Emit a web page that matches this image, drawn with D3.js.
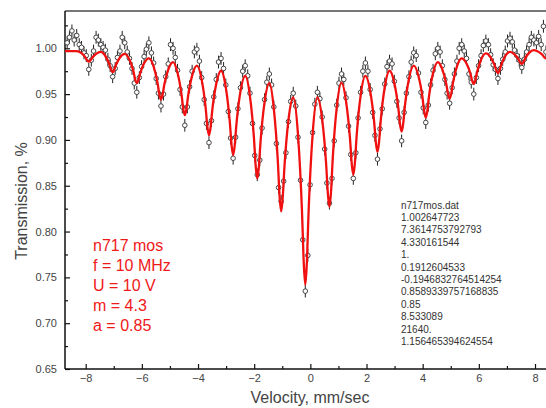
<!DOCTYPE html>
<html>
<head>
<meta charset="utf-8">
<script src="https://cdn.jsdelivr.net/npm/d3@7"></script>
<style>
    body { margin: 0; background: #fff; }
    svg { display: block; font-family: "Liberation Sans", Arial, sans-serif; }
    .tick text { fill: #444; font-size: 11px; }
</style>
</head>
<body>
<svg width="546" height="408"></svg>
<script>
    // measured spectrum (velocity mm/sec, transmission)
    var dataVel = [
        -8.66, -8.58, -8.49, -8.41, -8.32,
        -8.23, -8.15, -8.06, -7.98, -7.89, -7.80, -7.72, -7.63, -7.55, -7.46,
        -7.38, -7.30, -7.21, -7.13, -7.04, -6.95, -6.87, -6.78, -6.70, -6.61,
        -6.52, -6.44, -6.35, -6.27, -6.18, -6.09, -6.01, -5.92, -5.84, -5.75,
        -5.66, -5.58, -5.49, -5.41, -5.32, -5.23, -5.15, -5.06, -4.98, -4.89,
        -4.81, -4.73, -4.64, -4.56, -4.47, -4.38, -4.30, -4.21, -4.13, -4.04,
        -3.95, -3.87, -3.78, -3.70, -3.61, -3.52, -3.44, -3.35, -3.27, -3.18,
        -3.09, -3.01, -2.92, -2.84, -2.75, -2.66, -2.58, -2.49, -2.41, -2.32,
        -2.23, -2.15, -2.06, -1.98, -1.89, -1.80, -1.72, -1.63, -1.55, -1.46,
        -1.38, -1.30, -1.21, -1.13, -1.04, -0.95, -0.87, -0.78, -0.70, -0.61,
        -0.52, -0.44, -0.35, -0.27, -0.18, -0.09, -0.01, 0.08, 0.16, 0.25,
        0.34, 0.42, 0.51, 0.59, 0.68, 0.77, 0.85, 0.94, 1.02, 1.11,
        1.19, 1.27, 1.36, 1.44, 1.53, 1.62, 1.70, 1.79, 1.87, 1.96,
        2.05, 2.13, 2.22, 2.30, 2.39, 2.48, 2.56, 2.65, 2.73, 2.82,
        2.91, 2.99, 3.08, 3.16, 3.25, 3.34, 3.42, 3.51, 3.59, 3.68,
        3.77, 3.85, 3.94, 4.02, 4.11, 4.20, 4.28, 4.37, 4.45, 4.54,
        4.62, 4.70, 4.79, 4.87, 4.96, 5.05, 5.13, 5.22, 5.30, 5.39,
        5.48, 5.56, 5.65, 5.73, 5.82, 5.91, 5.99, 6.08, 6.16, 6.25,
        6.34, 6.42, 6.51, 6.59, 6.68, 6.77, 6.85, 6.94, 7.02, 7.11,
        7.19, 7.27, 7.36, 7.44, 7.53, 7.62, 7.70, 7.79, 7.87, 7.96,
        8.05, 8.13, 8.22, 8.30, 8.39
    ];
    var dataTrans = [
        1.006, 1.012, 1.019, 1.009, 1.014,
        1.004, 1.001, 0.995, 0.992, 0.977, 0.987, 0.997, 1.012, 1.009, 1.004,
        1.001, 0.998, 0.988, 0.981, 0.969, 0.978, 0.990, 0.997, 1.012, 1.006,
        0.996, 0.989, 0.978, 0.962, 0.952, 0.968, 0.980, 0.991, 0.999, 1.006,
        0.995, 0.984, 0.967, 0.951, 0.937, 0.950, 0.969, 0.983, 1.004, 1.000,
        0.990, 0.976, 0.955, 0.936, 0.916, 0.936, 0.958, 0.975, 0.996, 0.999,
        0.986, 0.968, 0.944, 0.918, 0.897, 0.921, 0.947, 0.966, 0.985, 0.989,
        0.978, 0.960, 0.931, 0.902, 0.880, 0.903, 0.934, 0.957, 0.975, 0.981,
        0.970, 0.951, 0.918, 0.883, 0.862, 0.878, 0.913, 0.944, 0.963, 0.972,
        0.960, 0.936, 0.896, 0.848, 0.833, 0.855, 0.886, 0.920, 0.942, 0.951,
        0.937, 0.903, 0.856, 0.791, 0.735, 0.774, 0.851, 0.908, 0.939, 0.952,
        0.945, 0.925, 0.890, 0.853, 0.831, 0.858, 0.899, 0.938, 0.962, 0.972,
        0.966, 0.946, 0.915, 0.884, 0.858, 0.886, 0.924, 0.952, 0.975, 0.984,
        0.975, 0.955, 0.930, 0.905, 0.879, 0.912, 0.934, 0.961, 0.980, 0.986,
        0.983, 0.964, 0.942, 0.924, 0.899, 0.930, 0.951, 0.969, 0.985, 0.995,
        0.992, 0.973, 0.952, 0.935, 0.919, 0.938, 0.960, 0.976, 0.994, 1.000,
        0.996, 0.981, 0.966, 0.951, 0.940, 0.957, 0.972, 0.986, 1.000, 1.004,
        0.997, 0.989, 0.972, 0.963, 0.950, 0.968, 0.981, 0.992, 1.003, 1.008,
        1.004, 0.993, 0.982, 0.977, 0.967, 0.978, 0.988, 0.996, 1.008, 1.011,
        1.007, 0.998, 0.992, 0.987, 0.979, 0.988, 0.996, 1.004, 1.012, 1.009,
        1.006, 1.013, 1.004, 1.024, 0.996
    ];
    var errBar = 0.007;

    // fitted curve
    var fitVel = [
        -8.74, -8.32,
        -8.15, -8.01, -7.94, -7.89, -7.84, -7.77, -7.63, -7.46,
        -7.30, -7.16, -7.09, -7.04, -6.99, -6.92, -6.78, -6.61,
        -6.44, -6.30, -6.23, -6.18, -6.13, -6.06, -5.92, -5.75,
        -5.58, -5.44, -5.37, -5.32, -5.27, -5.20, -5.06, -4.89,
        -4.73, -4.59, -4.52, -4.47, -4.42, -4.35, -4.21, -4.04,
        -3.87, -3.73, -3.66, -3.61, -3.56, -3.49, -3.35, -3.18,
        -3.01, -2.87, -2.80, -2.75, -2.70, -2.63, -2.49, -2.32,
        -2.15, -2.01, -1.94, -1.89, -1.84, -1.77, -1.63, -1.46,
        -1.30, -1.16, -1.09, -1.04, -0.99, -0.92, -0.78, -0.61,
        -0.44, -0.30, -0.23, -0.18, -0.13, -0.06, 0.08, 0.25,
        0.42, 0.56, 0.63, 0.68, 0.73, 0.80, 0.94, 1.11,
        1.27, 1.41, 1.48, 1.53, 1.58, 1.65, 1.79, 1.96,
        2.13, 2.27, 2.34, 2.39, 2.44, 2.51, 2.65, 2.82,
        2.99, 3.13, 3.20, 3.25, 3.30, 3.37, 3.51, 3.68,
        3.85, 3.99, 4.06, 4.11, 4.16, 4.23, 4.37, 4.54,
        4.70, 4.84, 4.91, 4.96, 5.01, 5.08, 5.22, 5.39,
        5.56, 5.70, 5.77, 5.82, 5.87, 5.94, 6.08, 6.25,
        6.42, 6.56, 6.63, 6.68, 6.73, 6.80, 6.94, 7.11,
        7.27, 7.41, 7.48, 7.53, 7.58, 7.65, 7.79, 7.96,
        8.13, 8.27, 8.34, 8.39, 8.44
    ];
    var fitTrans = [
        0.997, 0.997,
        0.9947, 0.9900, 0.9866, 0.9854, 0.9865, 0.9896, 0.9939, 0.996,
        0.9916, 0.9828, 0.9762, 0.974, 0.976, 0.982, 0.990, 0.994,
        0.9876, 0.9748, 0.9652, 0.962, 0.9647, 0.9728, 0.9836, 0.989,
        0.980, 0.962, 0.9485, 0.944, 0.9481, 0.9604, 0.9768, 0.985,
        0.9734, 0.9502, 0.9328, 0.927, 0.9324, 0.9486, 0.9702, 0.981,
        0.9658, 0.9354, 0.9126, 0.905, 0.912, 0.9332, 0.9614, 0.9755,
        0.9571, 0.9203, 0.8927, 0.8835, 0.8922, 0.9181, 0.9527, 0.970,
        0.9476, 0.9028, 0.8692, 0.858, 0.8684, 0.8996, 0.9412, 0.962,
        0.934, 0.878, 0.836, 0.822, 0.8345, 0.8718, 0.9216, 0.9465,
        0.9056, 0.8238, 0.7625, 0.742, 0.7625, 0.8238, 0.9056, 0.9465,
        0.9226, 0.8748, 0.839, 0.827, 0.8406, 0.8812, 0.9354, 0.9625,
        0.9424, 0.9022, 0.872, 0.862, 0.8728, 0.9052, 0.9484, 0.970,
        0.9534, 0.9202, 0.8953, 0.887, 0.8959, 0.9224, 0.9578, 0.9755,
        0.9622, 0.9356, 0.9157, 0.909, 0.9162, 0.9378, 0.9666, 0.981,
        0.9697, 0.9471, 0.9302, 0.9245, 0.9306, 0.9487, 0.9729, 0.985,
        0.977, 0.961, 0.949, 0.945, 0.9494, 0.9626, 0.9802, 0.989,
        0.9834, 0.9722, 0.9638, 0.961, 0.9644, 0.9744, 0.9878, 0.9945,
        0.9902, 0.9816, 0.9752, 0.973, 0.9753, 0.9822, 0.9914, 0.996,
        0.9934, 0.9882, 0.9843, 0.983, 0.9845, 0.989, 0.995, 0.998,
        0.9961, 0.9926, 0.9899, 0.989, 0.9899
    ];

    var xMajor = [-8, -6, -4, -2, 0, 2, 4, 6, 8],
        xMinor = [-7, -5, -3, -1, 1, 3, 5, 7],
        yMajor = [0.65, 0.70, 0.75, 0.80, 0.85, 0.90, 0.95, 1.00],
        yMinor = [0.675, 0.725, 0.775, 0.825, 0.875, 0.925, 0.975, 1.025];

    var legendLines = ["n717 mos", "f = 10 MHz", "U = 10 V", "m = 4.3", "a = 0.85"];
    var fitParams = ["n717mos.dat", "1.002647723", "7.3614753792793", "4.330161544", "1.",
        "0.1912604533", "-0.1946832764514254", "0.8589339757168835", "0.85",
        "8.533089", "21640.", "1.156465394624554"];

    var margin = { top: 11, left: 65 },
        width = 482,
        height = 358,
        svg = d3.select("svg");

    var x = d3.scaleLinear().domain([-8.737, 8.427]).range([0, width]),
        y = d3.scaleLinear().domain([0.65, 1.0407]).range([height, 0]);

    var g = svg.append("g")
        .attr("transform", "translate(" + margin.left + "," + margin.top + ")");

    g.append("clipPath").attr("id", "plot-clip")
        .append("rect").attr("width", width).attr("height", height);

    // axes
    g.append("g")
        .attr("class", "axis axis--x")
        .attr("transform", "translate(0," + height + ")")
        .call(d3.axisBottom(x).tickValues(xMajor).tickSize(-5).tickPadding(5).tickFormat(d3.format("d")));
    g.append("g")
        .attr("class", "axis axis--x-minor")
        .attr("transform", "translate(0," + height + ")")
        .call(d3.axisBottom(x).tickValues(xMinor).tickSize(-3).tickFormat(""));
    g.append("g")
        .attr("class", "axis axis--y")
        .call(d3.axisLeft(y).tickValues(yMajor).tickSize(-5).tickPadding(8).tickFormat(d3.format(".2f")));
    g.append("g")
        .attr("class", "axis axis--y-minor")
        .call(d3.axisLeft(y).tickValues(yMinor).tickSize(-3).tickFormat(""));

    g.selectAll(".axis .domain").remove();
    g.selectAll(".axis line").attr("stroke", "#111").attr("stroke-width", 1.2);
    g.selectAll(".axis text").attr("font-family", "Liberation Sans, Arial, sans-serif").attr("font-size", 11).attr("fill", "#444");

    // frame
    g.append("line").attr("x1", 0).attr("x2", width).attr("y1", 0).attr("y2", 0)
        .attr("stroke", "#777").attr("stroke-width", 2);
    g.append("line").attr("x1", 0).attr("x2", 0).attr("y1", 0).attr("y2", height)
        .attr("stroke", "#111").attr("stroke-width", 1.5);
    g.append("line").attr("x1", 0).attr("x2", width).attr("y1", height).attr("y2", height)
        .attr("stroke", "#111").attr("stroke-width", 1.5);

    // data points with error bars
    var points = dataVel.map(function(v, i) {
        return { v: v, t: dataTrans[i] };
    });

    var pts = g.append("g").attr("clip-path", "url(#plot-clip)");

    pts.selectAll(".err")
        .data(points)
        .enter().append("line")
        .attr("class", "err")
        .attr("x1", function(d) { return x(d.v); })
        .attr("x2", function(d) { return x(d.v); })
        .attr("y1", function(d) { return y(d.t + errBar); })
        .attr("y2", function(d) { return y(d.t - errBar); })
        .attr("stroke", "#222")
        .attr("stroke-width", 1);

    pts.selectAll(".pt")
        .data(points)
        .enter().append("circle")
        .attr("class", "pt")
        .attr("cx", function(d) { return x(d.v); })
        .attr("cy", function(d) { return y(d.t); })
        .attr("r", 2.3)
        .attr("fill", "#fff")
        .attr("stroke", "#444")
        .attr("stroke-width", 1);

    // fit line
    var fit = fitVel.map(function(v, i) {
        return { v: v, t: fitTrans[i] };
    });

    g.append("path")
        .datum(fit)
        .attr("clip-path", "url(#plot-clip)")
        .attr("fill", "none")
        .attr("stroke", "#f01010")
        .attr("stroke-width", 2.3)
        .attr("d", d3.line()
            .curve(d3.curveMonotoneX)
            .x(function(d) { return x(d.v); })
            .y(function(d) { return y(d.t); }));

    // annotations
    g.append("g").selectAll("text")
        .data(legendLines)
        .enter().append("text")
        .attr("x", 28)
        .attr("y", function(d, i) { return 240 + i * 20; })
        .attr("font-size", 16)
        .attr("fill", "#f01818")
        .text(function(d) { return d; });

    g.append("g").selectAll("text")
        .data(fitParams)
        .enter().append("text")
        .attr("x", 336)
        .attr("y", function(d, i) { return 197.5 + i * 12.4; })
        .attr("font-size", 10)
        .attr("fill", "#333")
        .text(function(d) { return d; });

    // axis titles
    svg.append("text")
        .attr("x", 310)
        .attr("y", 403)
        .attr("text-anchor", "middle")
        .attr("font-size", 16)
        .attr("fill", "#444")
        .text("Velocity, mm/sec");

    svg.append("text")
        .attr("transform", "translate(27,201) rotate(-90)")
        .attr("text-anchor", "middle")
        .attr("font-size", 16)
        .attr("fill", "#444")
        .text("Transmission, %");
</script>
</body>
</html>
